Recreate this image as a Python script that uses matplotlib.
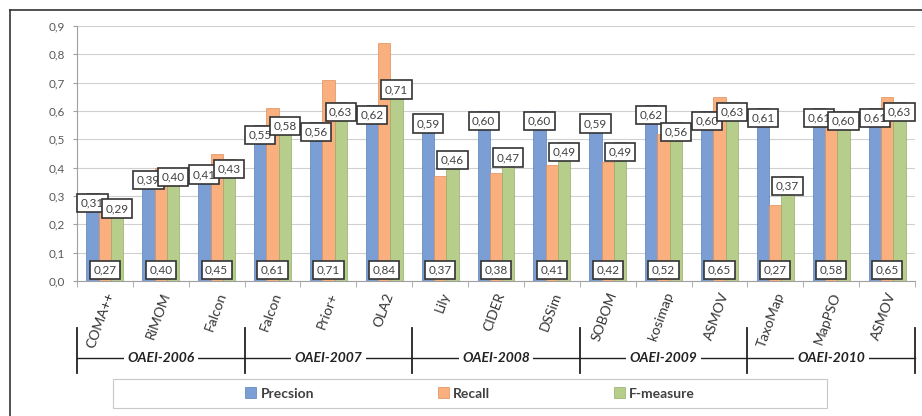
import matplotlib
matplotlib.use('Agg')
import matplotlib.pyplot as plt
import numpy as np
from matplotlib.patches import Patch, Rectangle
from matplotlib.lines import Line2D

plt.rcParams['font.family'] = ['Lato', 'DejaVu Sans']

# systems and campaigns
systems = ['COMA++', 'RiMOM', 'Falcon', 'Falcon', 'Prior+', 'OLA2', 'Lily', 'CIDER', 'DSSim',
           'SOBOM', 'kosimap', 'ASMOV', 'TaxoMap', 'MapPSO', 'ASMOV']
campaigns = ['OAEI-2006', 'OAEI-2007', 'OAEI-2008', 'OAEI-2009', 'OAEI-2010']
per_campaign = [3, 3, 3, 3, 3]

precision = [0.31, 0.39, 0.41, 0.55, 0.56, 0.62, 0.59, 0.60, 0.60, 0.59, 0.62, 0.60, 0.61, 0.61, 0.61]
recall = [0.27, 0.40, 0.45, 0.61, 0.71, 0.84, 0.37, 0.38, 0.41, 0.42, 0.52, 0.65, 0.27, 0.58, 0.65]
fmeasure = [0.29, 0.40, 0.43, 0.58, 0.63, 0.71, 0.46, 0.47, 0.49, 0.49, 0.56, 0.63, 0.37, 0.60, 0.63]

series_names = ['Precsion', 'Recall', 'F-measure']
colors = ['#7b9fd5', '#f9b07e', '#b7cd8b']
edges = ['#5a7fb8', '#e08f5a', '#95ad68']


def fmt(v):
    return f'{v:.2f}'.replace('.', ',')


fig = plt.figure(figsize=(9.22, 4.16), dpi=100)
ax = fig.add_axes([77 / 922, (416 - 281) / 416, (915 - 77) / 922, 255 / 416])

x = np.arange(len(systems))
w = 0.22
box = dict(boxstyle='square,pad=0.3', fc='white', ec='#333333', lw=1.2)

for i, (vals, c, e) in enumerate(zip([precision, recall, fmeasure], colors, edges)):
    ax.bar(x + (i - 1) * w, vals, width=w, color=c, edgecolor=e, linewidth=0.5, zorder=2)

for xi, p, r, f in zip(x, precision, recall, fmeasure):
    ax.annotate(fmt(p), (xi - w, p), xytext=(0, -3), textcoords='offset points',
                ha='center', va='top', fontsize=8.5, color='#404040', bbox=box, zorder=4)
    ax.annotate(fmt(f), (xi + w, f), xytext=(0, -3), textcoords='offset points',
                ha='center', va='top', fontsize=8.5, color='#404040', bbox=box, zorder=4)
    ax.annotate(fmt(r), (xi, 0), xytext=(0, 4), textcoords='offset points',
                ha='center', va='bottom', fontsize=8.5, color='#404040', bbox=box, zorder=4)

ax.set_xlim(-0.5, len(systems) - 0.5)
ax.set_ylim(0, 0.9)
ax.set_yticks(np.arange(0, 0.91, 0.1))
ax.set_yticklabels([f'{t:.1f}'.replace('.', ',') for t in np.arange(0, 0.91, 0.1)],
                   fontsize=8.5, color='#595959')
ax.yaxis.grid(True, color='#d0d0d0', lw=0.8, zorder=0)
ax.set_axisbelow(True)
for s in ['top', 'right']:
    ax.spines[s].set_visible(False)
ax.spines['left'].set_color('#a0a0a0')
ax.spines['bottom'].set_color('#a0a0a0')
ax.tick_params(axis='y', length=3, color='#a0a0a0', pad=6)

ax.set_xticks(x)
ax.set_xticklabels(systems, rotation=70, ha='right', va='top', rotation_mode='anchor',
                   fontsize=10, color='#333333')
ax.tick_params(axis='x', which='major', length=0, pad=7)
ax.set_xticks(np.arange(-0.5, len(systems), 1), minor=True)
ax.tick_params(axis='x', which='minor', length=4, color='#a0a0a0')

# campaign grouping lines
tr = ax.get_xaxis_transform()
bounds = np.concatenate([[0], np.cumsum(per_campaign)]) - 0.5
for b in bounds:
    ax.add_line(Line2D([b, b], [-0.184, -0.361], transform=tr, color='#222222', lw=1.3, clip_on=False))
ax.add_line(Line2D([bounds[0], bounds[-1]], [-0.302, -0.302], transform=tr, color='#222222',
                   lw=1.0, clip_on=False))
for k, name in enumerate(campaigns):
    cx = (bounds[k] + bounds[k + 1]) / 2
    ax.text(cx, -0.302, name, transform=tr, ha='center', va='center', fontsize=10,
            fontweight='bold', style='italic', color='#222222',
            bbox=dict(boxstyle='square,pad=0.25', fc='white', ec='none'), zorder=5, clip_on=False)

# legend
fig.patches.append(Rectangle((113 / 922, 8 / 416), 714 / 922, 29 / 416, transform=fig.transFigure,
                             fc='white', ec='#c8c8c8', lw=0.8))
handles = [Patch(facecolor=c, edgecolor=e, lw=0.5) for c, e in zip(colors, edges)]
leg = fig.legend(handles, series_names, loc='center', bbox_to_anchor=(470 / 922, 22.5 / 416),
                 ncol=3, frameon=False, handlelength=0.8, handleheight=0.8, handletextpad=0.3,
                 columnspacing=8.9, prop={'weight': 'bold', 'size': 10})
for t in leg.get_texts():
    t.set_color('#404040')

# outer frame
fig.add_artist(Line2D([10 / 922, 10 / 922], [0, 406 / 416], transform=fig.transFigure, color='#333333', lw=1.2))
fig.add_artist(Line2D([10 / 922, 1], [406 / 416, 406 / 416], transform=fig.transFigure, color='#333333', lw=1.2))

fig.savefig('out.png', dpi=100)
